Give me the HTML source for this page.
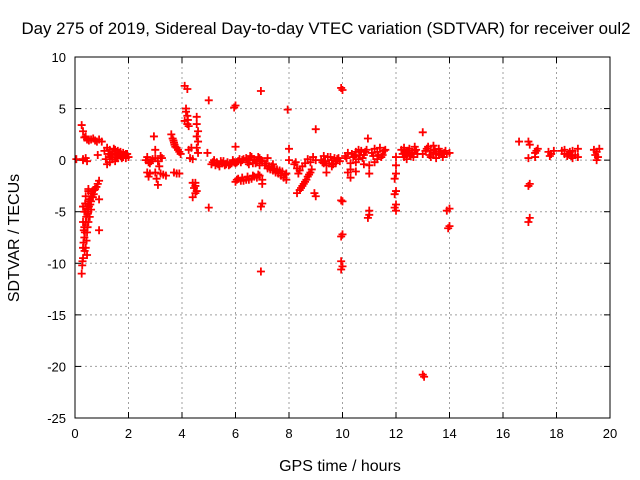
<!DOCTYPE html>
<html><head><meta charset="utf-8"><style>
body{margin:0;background:#fff}
svg{display:block;font-family:"Liberation Sans",sans-serif}
</style></head><body>
<svg id="chart" width="640" height="480">
<text x="326" y="34" font-size="16.5" text-anchor="middle" textLength="609" lengthAdjust="spacingAndGlyphs">Day 275 of 2019, Sidereal Day-to-day VTEC variation (SDTVAR) for receiver oul2</text>
<g id="grid"></g>
<g id="ticks"></g>
<g id="marks"></g>
<rect x="75" y="57" width="535" height="361" fill="none" stroke="#000" stroke-width="1"/>
<text x="340" y="471" font-size="16" text-anchor="middle">GPS time / hours</text>
<text transform="translate(19,238) rotate(-90)" font-size="16" text-anchor="middle">SDTVAR / TECUs</text>
</svg>
<script>
const xTicks=[0,2,4,6,8,10,12,14,16,18,20];
const yTicks=[10,5,0,-5,-10,-15,-20,-25];
const hours=[0.25,0.3,0.3,0.35,0.35,0.4,0.4,0.45,0.5,0.5,0.55,0.6,0.6,0.65,0.7,0.75,0.8,0.85,0.9,0.3,0.35,0.4,0.45,0.5,0.55,0.6,0.4,0.5,0.3,0.45,0.9,0.9,0.5,
0.27,0.32,0.37,0.42,0.47,0.52,0.57,0.62,0.67,0.72,0.33,0.38,0.43,0.48,0.28,0.36,
0.25,0.3,0.35,0.45,0.6,0.75,0.9,1.0,0.05,0.3,0.4,0.45,0.85,0.4,0.52,0.68,0.82,0.3,
1.2,1.3,1.4,1.5,1.6,1.7,1.8,1.9,2.0,1.3,1.4,1.5,1.2,1.3,1.6,1.8,1.1,1.25,1.45,1.7,1.9,1.35,1.55,1.65,1.75,1.85,1.95,1.15,1.5,1.6,
2.65,2.7,2.75,2.8,2.9,3.0,3.1,3.2,2.7,2.75,2.8,3.0,3.05,3.1,3.2,3.3,3.4,2.95,3.0,3.15,2.85,3.25,
3.6,3.65,3.7,3.75,3.85,3.9,3.95,3.8,3.9,3.7,3.68,3.72,3.8,
4.1,4.2,4.15,4.2,4.1,4.2,4.25,4.25,4.35,4.3,4.4,4.4,4.45,4.5,4.4,4.5,4.15,4.22,
4.55,4.55,4.6,4.55,4.6,4.55,4.6,4.5,4.55,5.0,5.0,4.95,
5.1,5.3,5.5,5.7,5.9,6.1,6.3,5.2,5.4,5.6,5.8,6.0,6.2,5.15,5.35,5.55,5.75,5.95,6.15,5.25,5.45,5.65,5.85,6.05,6.25,
6.4,6.5,6.6,6.7,6.8,6.9,7.0,6.5,6.9,6.45,6.65,6.85,6.55,6.75,6.95,
6.0,6.2,6.4,6.6,6.8,6.9,6.1,6.3,6.5,6.7,6.05,6.25,6.45,6.65,6.85,
5.95,6.0,6.0,6.95,7.0,6.95,6.95,7.0,7.0,
7.1,7.2,7.3,7.4,7.5,7.6,7.7,7.8,7.9,7.2,7.4,7.9,7.95,8.0,8.0,7.35,7.55,7.75,7.15,7.25,7.45,7.65,7.85,
8.2,8.3,8.4,8.6,8.7,8.8,8.9,8.3,8.4,8.5,8.6,8.7,8.8,8.25,8.35,8.5,8.95,9.0,9.0,9.0,8.45,8.55,8.65,8.75,8.85,
9.2,9.3,9.4,9.5,9.6,9.7,9.8,9.9,9.3,9.6,9.4,9.45,9.75,9.25,9.35,9.55,9.65,9.85,
9.95,10.0,9.95,10.0,9.95,10.0,9.95,10.0,9.95,
10.1,10.2,10.3,10.4,10.5,10.6,10.7,10.8,10.9,10.3,10.2,10.3,10.8,10.5,10.5,10.6,10.45,10.75,10.15,10.35,10.65,10.85,
10.95,11.0,11.0,11.0,10.95,11.0,11.1,11.2,11.3,11.4,11.5,11.3,11.2,11.6,11.45,11.15,11.35,11.55,
12.0,12.0,12.0,11.95,12.0,11.95,12.0,11.95,12.0,
12.2,12.3,12.4,12.5,12.6,12.7,12.3,12.4,12.5,12.8,12.7,12.25,12.55,12.65,12.35,12.45,12.75,
13.0,13.0,13.0,13.05,
13.1,13.2,13.3,13.4,13.5,13.6,13.7,13.8,13.9,14.0,13.3,13.5,13.6,13.4,13.25,13.75,13.15,13.45,13.65,13.85,
14.0,13.95,14.0,13.9,
16.6,16.95,17.0,16.95,17.0,16.95,17.0,16.95,17.2,17.25,17.3,17.2,
17.7,17.8,17.9,17.75,
18.2,18.3,18.4,18.5,18.6,18.7,18.3,18.6,18.8,18.8,18.45,18.55,
19.4,19.45,19.5,19.55,19.6,19.5];
const sdtvar=[-11,-9.5,-8.5,-7.5,-6.5,-6,-5,-4.5,-5,-4,-3.8,-4,-3.2,-3,-3.3,-2.8,-2.6,-2.3,-2,-6,-5,-3.5,-7,-6,-5.5,-4.8,-8.5,-3,-4.5,-9.2,-3.8,-6.8,-2.8,
-10.2,-8,-7,-5.5,-6.5,-4.5,-4.3,-3.5,-3.6,-2.9,-6.8,-4.2,-7.8,-5.2,-9.8,-8.8,
3.4,2.8,2.2,2.0,2.0,1.9,2.0,1.8,0.1,0.1,0.2,-0.1,0.5,2.3,1.9,2.1,1.8,0.0,
1.2,1.0,0.8,0.6,0.5,0.4,0.3,0.2,0.3,0.3,0.1,-0.1,-0.4,-0.2,0.9,0.7,0.9,0.6,1.1,0.8,0.6,0.5,0.3,0.7,0.2,0.5,0.6,0.1,1.0,0.2,
0.0,0.3,-0.2,-0.3,0.1,0.2,-0.1,0.4,-1.2,-1.6,-1.3,-1.2,-1.8,-2.4,-1.3,-1.4,-1.5,2.3,1.0,-0.6,-0.1,0.2,
2.5,2.1,1.7,1.3,1.0,0.8,0.6,-1.3,-1.3,-1.2,1.9,1.5,1.2,
7.2,6.9,5.0,4.3,3.8,3.5,3.3,1.0,1.2,0.2,0.1,-2.2,-2.7,-3.2,-3.6,-2.5,4.7,3.9,
4.2,3.5,2.8,2.3,1.8,1.2,0.7,-2.2,-3.0,5.8,-4.6,0.7,
-0.4,-0.2,-0.3,-0.2,0.0,-0.1,0.1,0.0,-0.6,-0.5,-0.4,-0.3,-0.2,-0.2,-0.4,-0.1,-0.5,-0.2,0.1,-0.5,-0.1,-0.4,-0.3,-0.2,0.0,
0.2,0.0,0.3,0.1,-0.1,0.2,-0.1,-0.4,-0.5,-0.2,-0.3,0.3,0.4,-0.3,0.0,
-2.1,-2.0,-1.9,-1.8,-1.7,-1.5,-1.8,-2.0,-1.9,-1.6,-1.9,-1.7,-1.6,-1.5,-1.4,
5.1,5.3,1.3,6.7,-4.2,-4.5,-10.8,-1.9,-2.3,
-0.5,-0.8,-0.9,-1.0,-1.2,-1.3,-1.5,-1.7,-1.9,0.2,-0.4,-1.3,4.9,1.1,0.0,-0.6,-0.9,-1.1,-0.3,-0.6,-0.8,-1.0,-1.4,
-0.4,-0.8,-1.0,-0.3,0.1,-0.2,0.3,-3.2,-2.9,-2.5,-2.1,-1.6,-1.2,-0.2,-1.3,-0.6,-3.2,-3.5,3.0,0.0,-2.7,-2.3,-1.9,-1.4,-0.9,
0.0,-0.3,-0.5,-0.3,0.0,0.2,0.1,-0.1,0.4,-0.6,-1.2,0.3,-0.3,-0.2,-0.1,0.3,-0.4,0.2,
7.0,6.8,-3.9,-4.0,-7.4,-7.2,-9.8,-10.3,-10.6,
0.4,0.7,-0.3,0.3,0.8,0.1,0.9,0.5,1.0,-0.9,-1.2,-1.7,-0.4,-0.2,-1.1,1.0,0.4,0.2,0.2,0.6,0.5,0.8,
2.1,-0.5,-1.3,-4.9,-5.6,-5.3,0.7,1.1,0.8,1.2,0.5,0.1,-0.2,1.0,0.3,0.4,0.5,0.9,
0.3,-0.5,-1.3,-1.8,-3.0,-3.3,-4.3,-4.6,-4.9,
1.0,1.2,0.8,1.1,0.7,0.9,0.3,0.1,0.5,0.6,1.3,0.6,0.4,0.3,0.7,0.9,1.0,
2.7,0.6,-20.8,-21.0,
0.9,1.3,0.9,0.7,0.6,0.5,0.6,0.7,0.6,0.7,0.3,0.2,1.1,1.4,0.5,0.3,1.1,1.0,0.8,0.9,
-4.7,-6.6,-6.4,-4.9,
1.8,1.8,1.5,0.2,-2.3,-2.5,-5.6,-6.0,0.3,0.9,1.1,0.7,
0.8,0.6,0.9,0.4,
0.9,0.6,0.4,0.8,0.2,0.5,1.0,0.9,1.1,0.3,0.6,0.4,
1.0,0.5,0.8,0.3,1.1,0.0];
const X0=75,X1=610,Y0=418,Y1=57,xmin=0,xmax=20,ymin=-25,ymax=10;
const sx=v=>X0+(v-xmin)/(xmax-xmin)*(X1-X0);
const sy=v=>Y0-(v-ymin)/(ymax-ymin)*(Y0-Y1);
const NS='http://www.w3.org/2000/svg';
const grid=document.getElementById('grid'),ticks=document.getElementById('ticks'),marks=document.getElementById('marks');
function mk(t,a){const e=document.createElementNS(NS,t);for(const k in a)e.setAttribute(k,a[k]);return e;}
xTicks.forEach(v=>{const x=sx(v);
 if(v>xmin&&v<xmax){const g=mk('line',{x1:x,x2:x,y1:Y1,y2:Y0,stroke:'#a0a0a0','stroke-dasharray':'2,3'});
 
 grid.appendChild(g);}
 ticks.appendChild(mk('line',{x1:x,x2:x,y1:Y0,y2:Y0-6,stroke:'#000'}));
 ticks.appendChild(mk('line',{x1:x,x2:x,y1:Y1,y2:Y1+6,stroke:'#000'}));
 const l=mk('text',{x:x,y:Y0+20,'font-size':13,'text-anchor':'middle'});l.textContent=v;
 
 ticks.appendChild(l);});
yTicks.forEach(v=>{const y=sy(v);
 if(v>ymin&&v<ymax){const g=mk('line',{x1:X0,x2:X1,y1:y,y2:y,stroke:'#a0a0a0','stroke-dasharray':'2,3'});
 
 grid.appendChild(g);}
 ticks.appendChild(mk('line',{x1:X0,x2:X0+6,y1:y,y2:y,stroke:'#000'}));
 ticks.appendChild(mk('line',{x1:X1,x2:X1-6,y1:y,y2:y,stroke:'#000'}));
 const l=mk('text',{x:X0-9,y:y+5,'font-size':13,'text-anchor':'end'});l.textContent=v;
 
 ticks.appendChild(l);});
hours.forEach((h,i)=>{const x=sx(h),y=sy(sdtvar[i]);
 const p=mk('path',{d:`M${x-4},${y}H${x+4}M${x},${y-4}V${y+4}`,stroke:'#f00','stroke-width':1.8,fill:'none'});
 
 marks.appendChild(p);});
</script>
</body></html>
